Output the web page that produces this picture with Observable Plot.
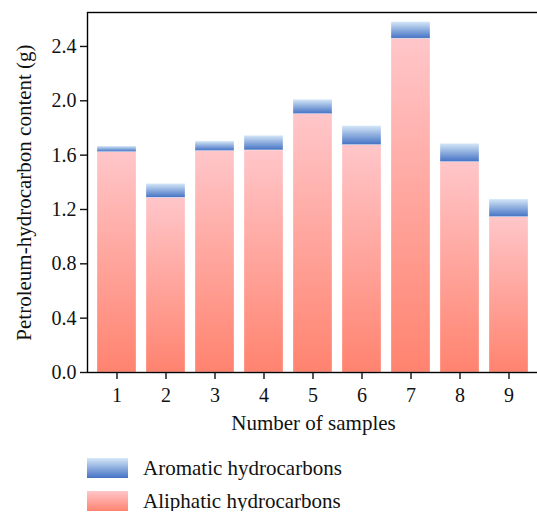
<!DOCTYPE html>
<html>
<head>
<meta charset="utf-8">
<script src="https://cdn.jsdelivr.net/npm/d3@7"></script>
<script src="https://cdn.jsdelivr.net/npm/@observablehq/plot@0.6"></script>
<style>
  body { margin: 0; background: #fff; font-family: "Liberation Serif", "DejaVu Serif", serif; }
  #wrap { width: 537px; position: relative; }
  .legend { margin-left: 87px; margin-top: 18px; }
  .row { display: flex; align-items: center; height: 20px; font-size: 21px; line-height: 20px; color: #111; }
  .row + .row { margin-top: 13px; }
  .sw { width: 41px; height: 20px; margin-right: 15px; flex: none; }
</style>
</head>
<body>
<div id="wrap"></div>
<script>
const samples = ["1","2","3","4","5","6","7","8","9"];
const aliphatic = [1.622, 1.286, 1.630, 1.635, 1.902, 1.674, 2.457, 1.549, 1.144];
const aromatic  = [0.042, 0.103, 0.071, 0.108, 0.106, 0.140, 0.123, 0.135, 0.130];
const yTicks = [0, 0.4, 0.8, 1.2, 1.6, 2.0, 2.4];
const seriesNames = ["Aromatic hydrocarbons", "Aliphatic hydrocarbons"];
const yLabel = "Petroleum-hydrocarbon content (g)";
const xLabel = "Number of samples";

const rows = samples.map((s, i) => ({sample: s, ali: aliphatic[i], aro: aromatic[i], total: aliphatic[i] + aromatic[i]}));

const font = "Liberation Serif, DejaVu Serif, serif";
const plot = Plot.plot({
  width: 537,
  height: 440,
  marginLeft: 87,
  marginRight: -2,
  marginTop: 12,
  marginBottom: 68,
  style: {fontFamily: font, fontSize: "20px", color: "#111", background: "#fff"},
  x: {domain: samples, paddingInner: 0.2, paddingOuter: 0.2, label: null},
  y: {domain: [0, 2.65], label: null},
  marks: [
    Plot.barY(rows, {x: "sample", y1: 0, y2: "ali", fill: "url(#gAli)", stroke: "#fff", strokeOpacity: 0.5, strokeWidth: 0.6}),
    Plot.barY(rows, {x: "sample", y1: "ali", y2: "total", fill: "url(#gAro)", stroke: "#fff", strokeOpacity: 0.5, strokeWidth: 0.6}),
    Plot.frame({stroke: "#000", strokeWidth: 1.4}),
    Plot.axisY({ticks: yTicks, tickFormat: d3.format(".1f"), tickSize: 7, tickPadding: 4, strokeWidth: 1.4, label: null, fontSize: 20}),
    Plot.axisX({tickSize: 7, tickPadding: 8, strokeWidth: 1.4, label: null, fontSize: 20}),
    Plot.text([yLabel], {frameAnchor: "left", textAnchor: "middle", dx: -63, rotate: -90, fontSize: 21, fill: "#111"}),
    Plot.text([xLabel], {frameAnchor: "bottom", textAnchor: "middle", dy: 57, fontSize: 21, fill: "#111"})
  ]
});

const ns = "http://www.w3.org/2000/svg";
const defs = document.createElementNS(ns, "defs");
function grad(id, top, bottom) {
  const g = document.createElementNS(ns, "linearGradient");
  g.setAttribute("id", id);
  g.setAttribute("x1", "0"); g.setAttribute("y1", "0");
  g.setAttribute("x2", "0"); g.setAttribute("y2", "1");
  [[0, top], [1, bottom]].forEach(([o, c]) => {
    const s = document.createElementNS(ns, "stop");
    s.setAttribute("offset", o);
    s.setAttribute("stop-color", c);
    g.appendChild(s);
  });
  defs.appendChild(g);
}
const aliTop = "#ffc6c9", aliBottom = "#ff836f";
const aroTop = "#d6e8f8", aroBottom = "#4472c4";
grad("gAli", aliTop, aliBottom);
grad("gAro", aroTop, aroBottom);
plot.insertBefore(defs, plot.firstChild);

const wrap = document.getElementById("wrap");
wrap.appendChild(plot);

const legend = document.createElement("div");
legend.className = "legend";
[[seriesNames[0], aroTop, aroBottom], [seriesNames[1], aliTop, aliBottom]].forEach(([name, t, b]) => {
  const r = document.createElement("div");
  r.className = "row";
  const sw = document.createElement("div");
  sw.className = "sw";
  sw.style.background = `linear-gradient(${t}, ${b})`;
  const lab = document.createElement("span");
  lab.textContent = name;
  r.appendChild(sw); r.appendChild(lab);
  legend.appendChild(r);
});
wrap.appendChild(legend);
</script>
</body>
</html>
